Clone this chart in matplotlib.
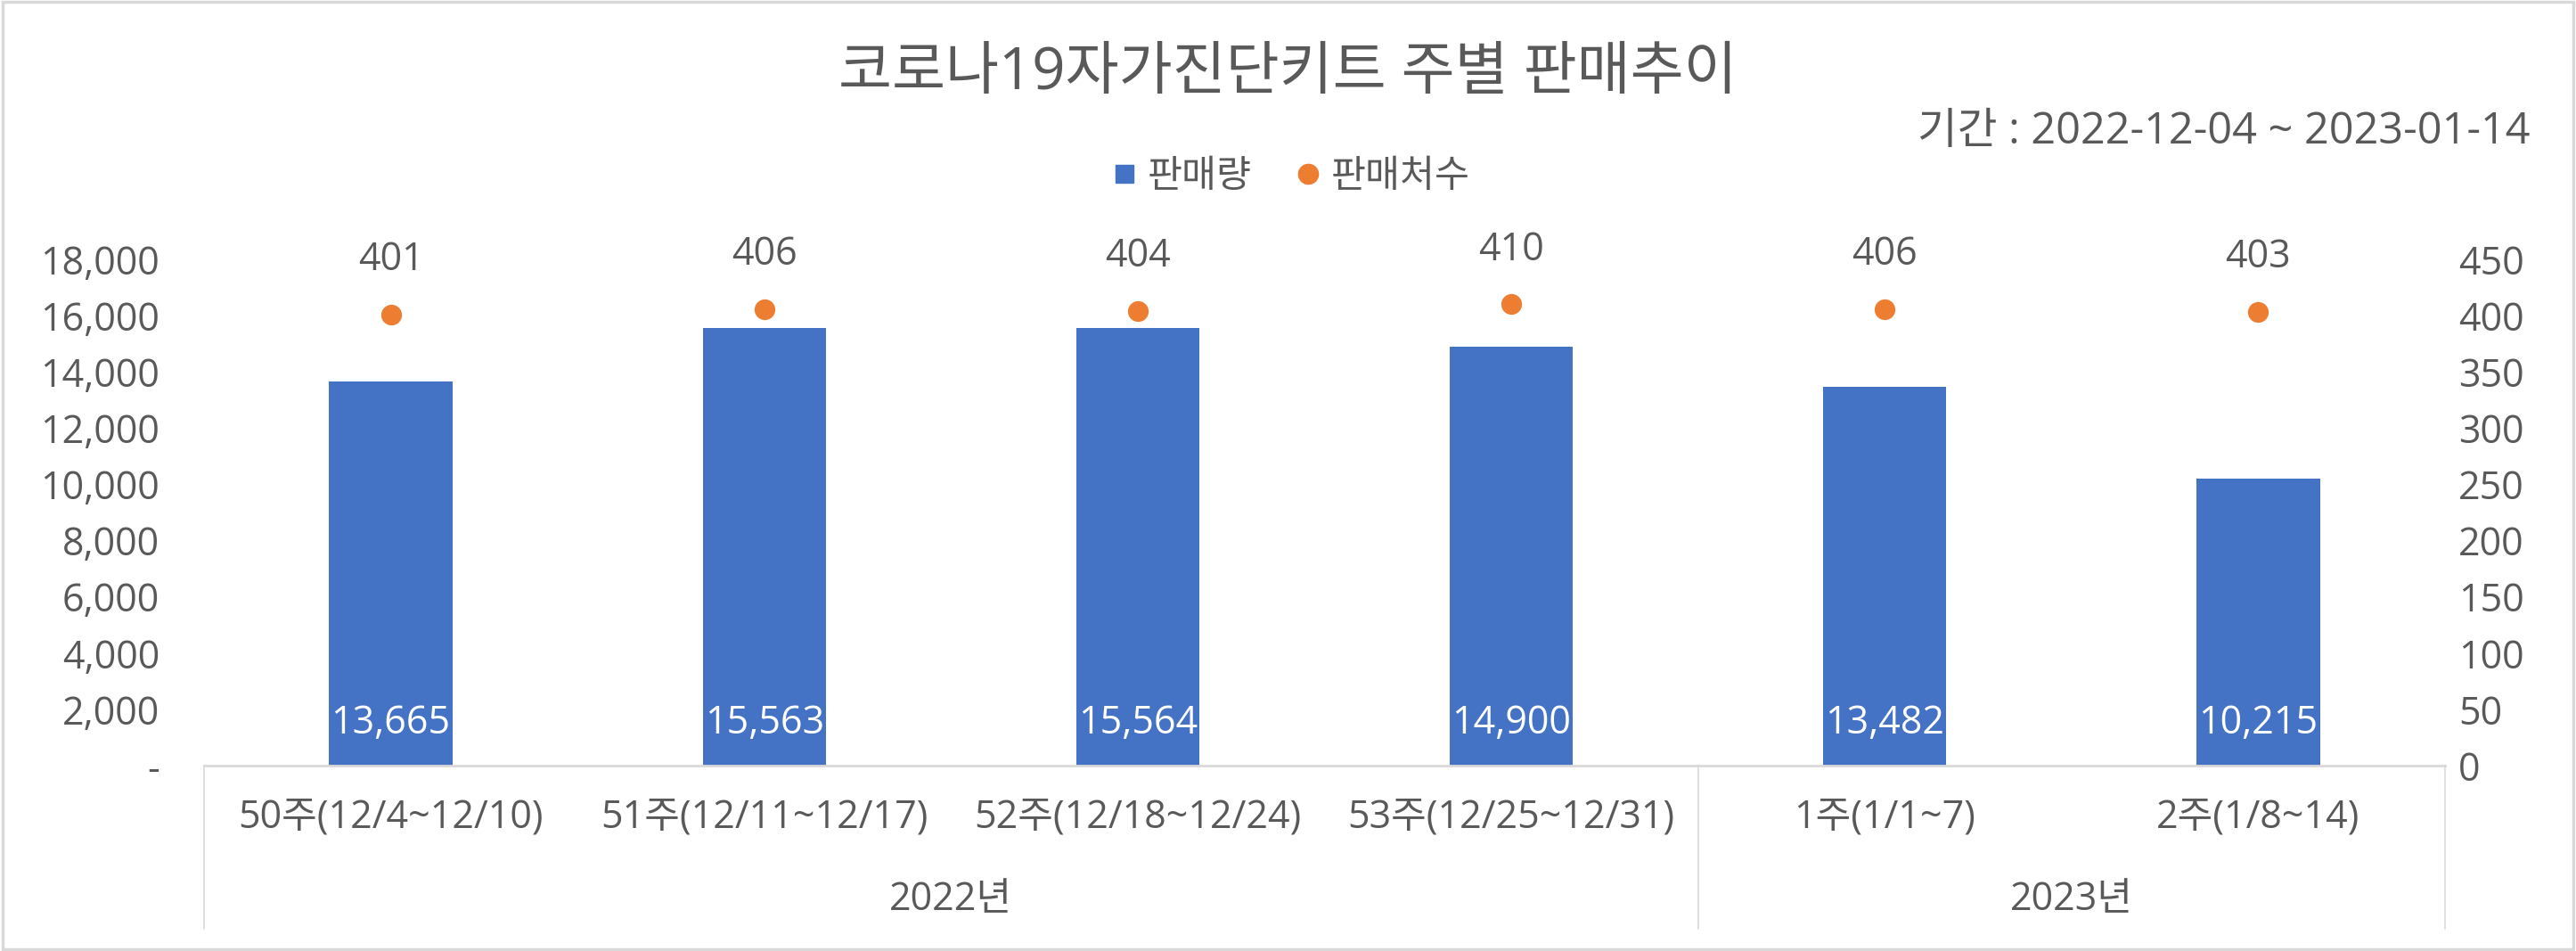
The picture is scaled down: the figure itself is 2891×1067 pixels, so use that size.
import matplotlib
matplotlib.use('Agg')
import matplotlib.pyplot as plt
from matplotlib.lines import Line2D
from matplotlib.patches import Rectangle
from matplotlib.ticker import FuncFormatter

plt.rcParams['font.family'] = ['Open Sans', 'Noto Sans CJK KR', 'DejaVu Sans']

# ── 데이터 ──────────────────────────────────────────────────────────────────
WEEKS  = ['50주(12/4~12/10)', '51주(12/11~12/17)', '52주(12/18~12/24)',
          '53주(12/25~12/31)', '1주(1/1~7)', '2주(1/8~14)']
YEARS  = ['2022년', '2023년']
YEAR_N = [4, 2]                      # 연도별 주 개수
SALES  = [13665, 15563, 15564, 14900, 13482, 10215]   # 판매량
SHOPS  = [401, 406, 404, 410, 406, 403]               # 판매처수

TXT   = '#595959'
BLUE  = '#4472C4'
ORNG  = '#ED7D31'
LINE  = '#D9D9D9'
FS    = 31   # 숫자 레이블 크기

fig = plt.figure(figsize=(28.91, 10.67), dpi=100)
fig.patch.set_facecolor('white')
ax = fig.add_axes([229/2891, 1 - 859/1067, (2744 - 229)/2891, (859 - 291)/1067])
ax2 = ax.twinx()

x = list(range(len(WEEKS)))
ax.bar(x, SALES, width=0.33, color=BLUE, zorder=2)
ax2.scatter(x, SHOPS, s=280, color=ORNG, zorder=3, linewidths=0)

ax.set_xlim(-0.5, len(WEEKS) - 0.5)
ax.set_ylim(0, 18000)
ax.set_yticks(range(0, 18001, 2000))
ax.yaxis.set_major_formatter(FuncFormatter(lambda v, p: '-' if v == 0 else f'{int(v):,}'))
ax2.set_ylim(0, 450)
ax2.set_yticks(range(0, 451, 50))

for a in (ax, ax2):
    for s in a.spines.values():
        s.set_visible(False)
    a.tick_params(length=0, labelsize=FS, colors=TXT)
ax.tick_params(axis='y', pad=36)
ax2.tick_params(axis='y', pad=11)
ax.set_xticks([])

# 데이터 레이블
for xi, v in zip(x, SALES):
    ax.annotate(f'{v:,}', (xi, 0), xytext=(0, 34), textcoords='offset points',
                ha='center', va='center', color='white', fontsize=FS)
for xi, v in zip(x, SHOPS):
    ax2.annotate(f'{v}', (xi, v), xytext=(0, 44), textcoords='offset points',
                 ha='center', va='center', color=TXT, fontsize=FS)

# 다단계 범주 축
tr = ax.get_xaxis_transform()
ax.plot([-0.5, len(WEEKS) - 0.5], [0, 0], color=LINE, lw=2, transform=tr,
        clip_on=False, zorder=4)
for xi, lab in zip(x, WEEKS):
    ax.text(xi, -0.102, lab, transform=tr, ha='center', va='center',
            fontsize=31, color=TXT)
start = -0.5
ax.plot([start, start], [0, -0.322], color=LINE, lw=1.2, transform=tr, clip_on=False)
for yr, n in zip(YEARS, YEAR_N):
    end = start + n
    ax.plot([end, end], [0, -0.322], color=LINE, lw=1.2, transform=tr, clip_on=False)
    ax.text((start + end) / 2, -0.266, yr, transform=tr, ha='center', va='center',
            fontsize=31, color=TXT)
    start = end

# 제목 / 부제
fig.text(0.5, 1 - 83/1067, '코로나19자가진단키트 주별 판매추이', ha='center', va='center',
         fontsize=47, color=TXT)
fig.text(2840/2891, 1 - 148/1067, '기간 : 2022-12-04 ~ 2023-01-14', ha='right',
         va='center', fontsize=35, color=TXT)

# 범례
handles = [Line2D([], [], marker='s', ls='', color=BLUE, markersize=14),
           Line2D([], [], marker='o', ls='', color=ORNG, markersize=16)]
fig.legend(handles, ['판매량', '판매처수'], loc='center', ncol=2, frameon=False,
           bbox_to_anchor=(0.5, 1 - 199/1067), fontsize=30.5, labelcolor=TXT,
           handletextpad=0.1, columnspacing=1.0, handlelength=1.0)

# 차트 테두리
fig.patches.append(Rectangle((0.001, 0.002), 0.998, 0.996, transform=fig.transFigure,
                             fill=False, edgecolor=LINE, lw=2.5))

fig.savefig('out.png', dpi=100, facecolor='white')
